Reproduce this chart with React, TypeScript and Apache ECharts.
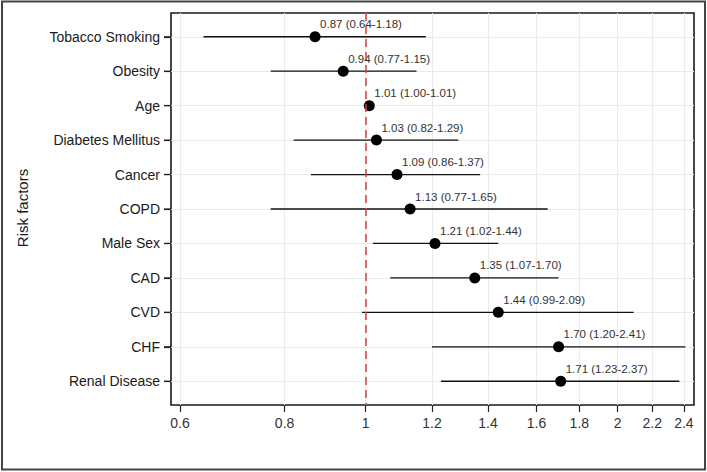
import React, { useEffect, useRef } from "react";
import * as echarts from "echarts";

const factors = [
  "Tobacco Smoking",
  "Obesity",
  "Age",
  "Diabetes Mellitus",
  "Cancer",
  "COPD",
  "Male Sex",
  "CAD",
  "CVD",
  "CHF",
  "Renal Disease",
];
const estimates = [0.87, 0.94, 1.01, 1.03, 1.09, 1.13, 1.21, 1.35, 1.44, 1.7, 1.71];
const lower = [0.64, 0.77, 1.0, 0.82, 0.86, 0.77, 1.02, 1.07, 0.99, 1.2, 1.23];
const upper = [1.18, 1.15, 1.01, 1.29, 1.37, 1.65, 1.44, 1.7, 2.09, 2.41, 2.37];
const xTicks = [0.6, 0.8, 1, 1.2, 1.4, 1.6, 1.8, 2, 2.2, 2.4];
const xTickLabels = ["0.6", "0.8", "1", "1.2", "1.4", "1.6", "1.8", "2", "2.2", "2.4"];

const ln = Math.log;

export default function App() {
  const ref = useRef<HTMLDivElement>(null);
  useEffect(() => {
    document.body.style.margin = "0";
    const chart = echarts.init(ref.current!, undefined, { renderer: "svg" });
    const idx = factors.map((_, i) => i);
    const xTickVals = xTicks.map(ln);
    const font = "'Liberation Sans', Arial, sans-serif";
    const option: any = {
      animation: false,
      backgroundColor: "#fff",
      grid: {
        left: 171,
        right: 13,
        top: 13,
        bottom: 67,
        show: true,
        borderColor: "#1a1a1a",
        borderWidth: 1.6,
        backgroundColor: "#fff",
        z: 0,
      },
      xAxis: {
        type: "value",
        min: ln(0.5853),
        max: ln(2.4675),
        axisLine: { show: false, onZero: false },
        axisTick: { show: true, length: 7, lineStyle: { color: "#222", width: 1.2 }, customValues: xTickVals },
        axisLabel: {
          customValues: xTickVals,
          color: "#333",
          fontSize: 14,
          fontFamily: font,
          margin: 11,
          formatter: (v: number) => {
            const k = xTickVals.findIndex((t) => Math.abs(t - v) < 1e-6);
            return k >= 0 ? xTickLabels[k] : "";
          },
        },
        splitLine: { show: true, lineStyle: { color: "#ebebeb", width: 1 } },
      },
      yAxis: {
        type: "value",
        inverse: true,
        min: -0.69,
        max: 10.69,
        axisLine: { show: false, onZero: false },
        axisTick: { show: true, length: 7, lineStyle: { color: "#222", width: 1.2 }, customValues: idx },
        axisLabel: {
          customValues: idx,
          color: "#1a1a1a",
          fontSize: 14,
          fontFamily: font,
          margin: 11,
          formatter: (v: number) => factors[Math.round(v)] ?? "",
        },
        splitLine: { show: true, lineStyle: { color: "#ebebeb", width: 1 } },
      },
      graphic: [
        {
          type: "rect",
          shape: { x: 2, y: 1.5, width: 703, height: 468 },
          style: { fill: "none", stroke: "#444", lineWidth: 2 },
          silent: true,
          z: 100,
        },
        {
          type: "text",
          x: 22,
          y: 208,
          rotation: Math.PI / 2,
          style: {
            text: "Risk factors",
            fontSize: 15,
            fontFamily: font,
            fill: "#1a1a1a",
            align: "center",
            verticalAlign: "middle",
          },
        },
      ],
      series: [
        {
          type: "custom",
          z: 2,
          clip: false,
          data: idx.map((i) => [ln(lower[i]), ln(upper[i]), i]),
          encode: { x: [0, 1], y: 2 },
          renderItem: (params: any, api: any) => {
            const p1 = api.coord([api.value(0), api.value(2)]);
            const p2 = api.coord([api.value(1), api.value(2)]);
            const left = params.coordSys.x;
            return {
              type: "group",
              children: [
                {
                  type: "line",
                  shape: { x1: p1[0], y1: p1[1], x2: p2[0], y2: p2[1] },
                  style: { stroke: "#111", lineWidth: 1.3 },
                },
                {
                  type: "line",
                  shape: { x1: left - 7, y1: p1[1], x2: left, y2: p1[1] },
                  style: { stroke: "#222", lineWidth: 1.2 },
                },
              ],
            };
          },
          markLine: {
            silent: true,
            symbol: "none",
            label: { show: false },
            lineStyle: { color: "#DC3D3D", type: [8, 5], width: 1.5 },
            data: [{ xAxis: 0 }],
          },
        },
        {
          type: "scatter",
          z: 3,
          symbol: "circle",
          symbolSize: 11,
          itemStyle: { color: "#000", opacity: 1 },
          data: idx.map((i) => [ln(estimates[i]), i]),
          label: {
            show: true,
            position: "top",
            align: "left",
            distance: 1,
            offset: [5, 0],
            fontSize: 11.5,
            fontFamily: font,
            color: "#333",
            formatter: (p: any) => {
              const i = p.dataIndex;
              return `${estimates[i].toFixed(2)} (${lower[i].toFixed(2)}-${upper[i].toFixed(2)})`;
            },
          },
        },
      ],
    };
    chart.setOption(option);
    return () => chart.dispose();
  }, []);
  return <div ref={ref} style={{ width: 707, height: 472 }} />;
}
